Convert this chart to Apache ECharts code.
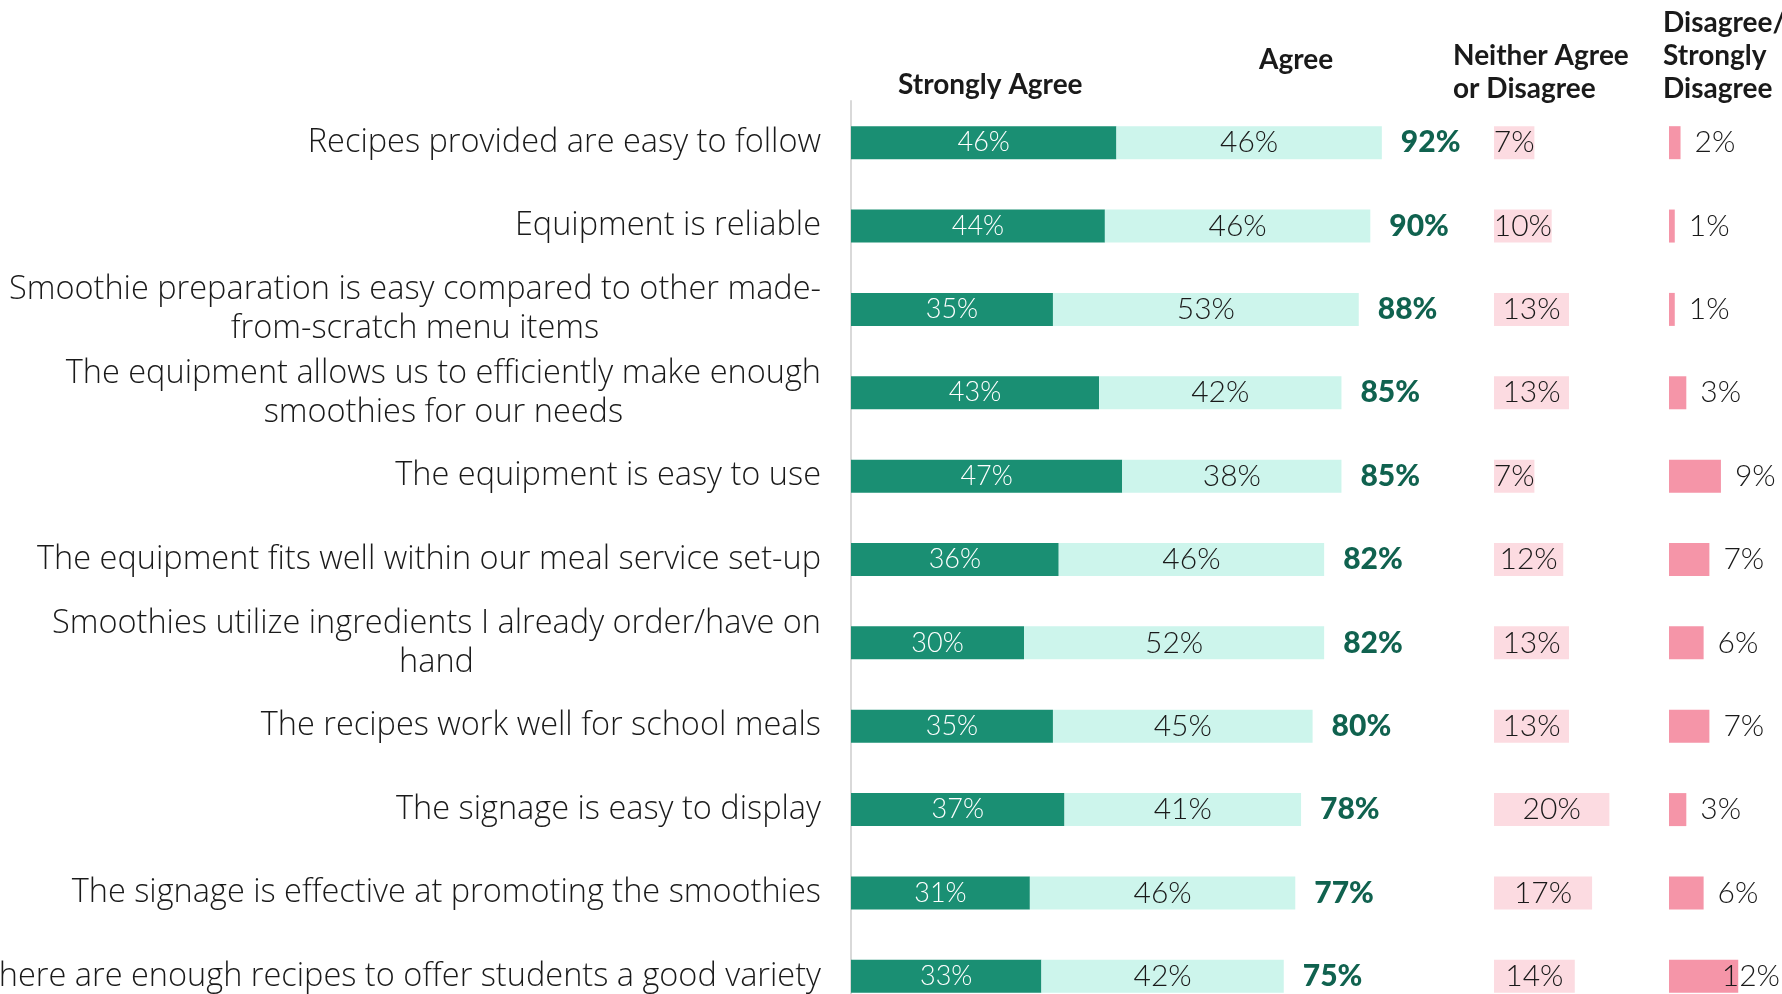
<!DOCTYPE html>
<html>
<head>
<meta charset="utf-8">
<script src="https://cdn.jsdelivr.net/npm/echarts@6/dist/echarts.min.js"></script>
<style>
  html, body { margin: 0; padding: 0; background: #ffffff; }
  #chart { width: 1782px; height: 994px; }
</style>
</head>
<body>
<div id="chart"></div>
<script>
// Survey statements (top to bottom)
const statements = [
  'Recipes provided are easy to follow',
  'Equipment is reliable',
  'Smoothie preparation is easy compared to other made-\nfrom-scratch menu items',
  'The equipment allows us to efficiently make enough\nsmoothies for our needs',
  'The equipment is easy to use',
  'The equipment fits well within our meal service set-up',
  'Smoothies utilize ingredients I already order/have on\nhand',
  'The recipes work well for school meals',
  'The signage is easy to display',
  'The signage is effective at promoting the smoothies',
  'There are enough recipes to offer students a good variety'
];

// Response shares, in percent
const stronglyAgree = [46, 44, 35, 43, 47, 36, 30, 35, 37, 31, 33];
const agree         = [46, 46, 53, 42, 38, 46, 52, 45, 41, 46, 42];
const neither       = [7, 10, 13, 13, 7, 12, 13, 13, 20, 17, 14];
const disagree      = [2, 1, 1, 3, 9, 7, 6, 7, 3, 6, 12];

// Column headings
const headings = ['Strongly Agree', 'Agree', 'Neither Agree\nor Disagree', 'Disagree/\nStrongly\nDisagree'];

const LABEL_FONT = 'Open Sans';
const FONT = 'Lato';
const PX_PER_PCT = 5.77;
const GRID_TOP = 101;
const GRID_H = 917;
const CANVAS_W = 1782;

const C_SA = '#1a8f73';
const C_A = '#cdf5ec';
const C_N = '#fcdbe1';
const C_D = '#f595a8';
const C_TOTAL = '#10624f';
const C_TEXT = '#1a1a1a';

function grid(left, maxPct) {
  return {
    left: left, top: GRID_TOP,
    width: PX_PER_PCT * maxPct, height: GRID_H,
    outerBoundsMode: 'none'
  };
}
function xAxis(idx, maxPct) {
  return { type: 'value', gridIndex: idx, min: 0, max: maxPct, show: false };
}
function yAxis(idx, withLabels) {
  return {
    type: 'category', gridIndex: idx, data: statements, inverse: true,
    axisLine: { show: withLabels, lineStyle: { color: '#d9d9d9', width: 2 } },
    axisTick: { show: false },
    splitLine: { show: false },
    axisLabel: withLabels ? {
      show: true,
      margin: 30,
      align: 'right',
      fontFamily: LABEL_FONT,
      fontWeight: 300,
      fontSize: 32.5,
      lineHeight: 39,
      color: C_TEXT,
      // each wrapped line is centred under the longest one
      formatter: function (v) {
        return v.split('\n').map(function (l) { return '{c|' + l + '}'; }).join('\n');
      },
      rich: {
        c: { align: 'center', fontFamily: LABEL_FONT, fontWeight: 300, fontSize: 32.5, lineHeight: 39, color: C_TEXT }
      }
    } : { show: false }
  };
}

const valueLabel = function (color, pos, size) {
  return {
    show: true,
    position: pos,
    fontFamily: FONT,
    fontWeight: 300,
    fontSize: size,
    color: color,
    formatter: '{c}%'
  };
};

const option = {
  animation: false,
  backgroundColor: '#ffffff',
  grid: [grid(851, 100), grid(1494, 30), grid(1669, 18)],
  xAxis: [xAxis(0, 100), xAxis(1, 30), xAxis(2, 18)],
  yAxis: [yAxis(0, true), yAxis(1, false), yAxis(2, false)],
  series: [
    {
      name: 'Strongly Agree', type: 'bar', stack: 'agree',
      xAxisIndex: 0, yAxisIndex: 0, barWidth: 33,
      data: stronglyAgree,
      itemStyle: { color: C_SA },
      label: valueLabel('#ffffff', 'inside', 27)
    },
    {
      name: 'Agree', type: 'bar', stack: 'agree',
      xAxisIndex: 0, yAxisIndex: 0, barWidth: 33,
      data: agree,
      itemStyle: { color: C_A },
      label: valueLabel(C_TEXT, 'inside', 30)
    },
    {
      // zero-length end cap of the stack that carries the combined agree total
      name: 'Total', type: 'bar', stack: 'agree',
      xAxisIndex: 0, yAxisIndex: 0, barWidth: 33,
      data: agree.map(function () { return 0; }),
      itemStyle: { color: 'transparent' },
      silent: true,
      label: {
        show: true,
        position: 'right',
        distance: 19,
        fontFamily: FONT,
        fontWeight: 900,
        fontSize: 30,
        color: C_TOTAL,
        formatter: function (p) {
          return (stronglyAgree[p.dataIndex] + agree[p.dataIndex]) + '%';
        }
      }
    },
    {
      name: 'Neither Agree or Disagree', type: 'bar',
      xAxisIndex: 1, yAxisIndex: 1, barWidth: 33,
      data: neither,
      itemStyle: { color: C_N },
      label: valueLabel(C_TEXT, 'inside', 30)
    },
    {
      name: 'Disagree/Strongly Disagree', type: 'bar',
      xAxisIndex: 2, yAxisIndex: 2, barWidth: 33,
      data: disagree,
      itemStyle: { color: C_D },
      label: Object.assign(valueLabel(C_TEXT, 'right', 30), { distance: 14 }),
      // keep labels of long bars inside the canvas
      labelLayout: function (params) {
        const r = params.labelRect;
        if (r.x + r.width > CANVAS_W - 2) {
          return { x: CANVAS_W - 2 - r.width, y: r.y + r.height / 2, align: 'left', verticalAlign: 'middle' };
        }
        return {};
      }
    }
  ],
  graphic: [
    { type: 'text', left: 898, top: 68, style: { text: headings[0], font: 'bold 28px ' + FONT, fill: C_TEXT, lineHeight: 33 } },
    { type: 'text', left: 1259, top: 43, style: { text: headings[1], font: 'bold 28px ' + FONT, fill: C_TEXT, lineHeight: 33 } },
    { type: 'text', left: 1453, top: 39, style: { text: headings[2], font: 'bold 28px ' + FONT, fill: C_TEXT, lineHeight: 33 } },
    { type: 'text', left: 1663, top: 6, style: { text: headings[3], font: 'bold 28px ' + FONT, fill: C_TEXT, lineHeight: 33 } }
  ]
};

const chart = echarts.init(document.getElementById('chart'), null, { renderer: 'canvas' });
chart.setOption(option);
</script>
</body>
</html>
